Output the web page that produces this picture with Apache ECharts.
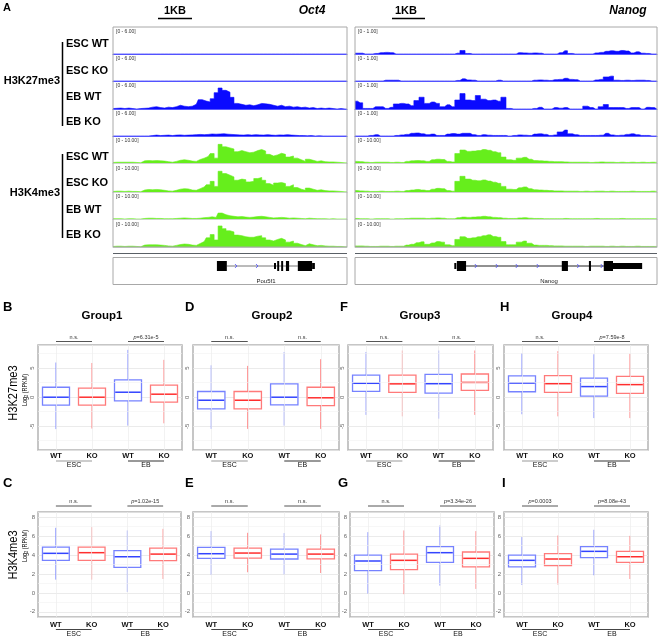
<!DOCTYPE html>
<html><head><meta charset="utf-8">
<style>html,body{margin:0;padding:0;background:#fff}#c{width:659px;height:638px}</style>
<script src="https://cdn.jsdelivr.net/npm/echarts/dist/echarts.min.js"></script>
</head><body><div id="c"></div>
<script>
// ================= DATA =================
// Panel A: IGV-like coverage tracks, 60 genomic bins per locus
const oct4_K27_ESCWT = [0,0,0,0,0,0,0,0,0,0, 0,0,0,0,0,0,0,0,0,0, 0,0,0,0,0,0,0,0,0,0, 0,0,0,0,0,0,0,0,0,0, 0,0,0,0,0,0,0,0,0,0, 0,0,0,0,0,0,0,0,0,0];
const oct4_K27_ESCKO = [0,0,0,0,0,0,0,0,0,0, 0,0,0,0,0,0,0,0,0,0, 0,0,0,0,0,0,0,0,0,0, 0,0,0,0,0,0,0,0,0,0, 0,0,0,0,0,0,0,0,0,0, 0,0,0,0,0,0,0,0,0,0];
const oct4_K27_EBWT = [0.1,0.15,0.2,0.1,0.2,0.1,0,0.1,0.15,0.2, 0.4,0.5,0.3,0.2,0.4,0.3,0.5,0.8,0.6,0.5, 0.6,1.0,2.0,1.7,1.5,2.2,3.5,4.5,4.0,3.6, 2.5,1.2,1.0,0.8,0.9,0.7,0.9,1.2,1.1,1.0, 0.8,0.6,0.8,0.5,0.6,0.4,0.5,0.3,0.4,0.2, 0.3,0.1,0.2,0.1,0.2,0.1,0,0.1,0,0];
const oct4_K27_EBKO = [0,0,0,0,0,0,0,0,0,0, 0.1,0.2,0.1,0.15,0.2,0.1,0.2,0.25,0.15,0.2, 0.25,0.3,0.35,0.3,0.35,0.45,0.4,0.45,0.5,0.4, 0.35,0.3,0.25,0.2,0.3,0.2,0.3,0.25,0.2,0.3, 0.2,0.15,0.25,0.2,0.3,0.2,0.15,0.1,0.1,0.05, 0.1,0,0.05,0,0,0,0,0,0,0];
const oct4_K4_ESCWT = [0.2,0.3,0.3,0.3,0.3,0.3,0.2,0.1,0.8,0.9, 0.8,0.9,0.8,0.7,0.5,0.3,0.6,1.0,1.2,1.0, 0.7,0.6,1.3,1.8,2.4,3.5,1.8,6.9,6.0,5.6, 5.2,4.2,4.6,4.2,3.8,4.0,4.6,5.0,4.4,3.2, 2.6,3.0,3.6,3.2,2.2,2.6,1.8,1.2,0.6,1.4, 1.0,0.6,0.8,0.5,0.4,0.4,0.3,0.2,0.1,0.1];
const oct4_K4_ESCKO = [0.2,0.3,0.3,0.2,0.3,0.2,0.2,0.1,0.7,0.9, 0.8,0.9,0.8,0.6,0.4,0.3,0.6,1.0,1.2,1.1, 0.7,0.6,1.2,1.8,2.6,3.8,2.0,7.4,6.6,6.0, 5.4,4.2,4.6,4.4,3.6,3.8,4.8,5.2,4.2,3.0, 2.4,3.2,3.4,3.0,2.0,2.6,1.6,1.0,0.6,1.4, 1.0,0.6,0.8,0.5,0.4,0.4,0.3,0.2,0.1,0.1];
const oct4_K4_EBWT = [0.1,0.1,0.1,0,0.1,0.1,0,0,0.2,0.3, 0.3,0.2,0.2,0.1,0.1,0.1,0.2,0.3,0.4,0.3, 0.2,0.2,0.3,0.5,0.6,0.8,0.6,2.2,1.6,1.2, 1.0,0.8,0.9,0.7,0.6,0.7,0.9,1.0,0.8,0.6, 0.4,0.5,0.6,0.5,0.3,0.4,0.3,0.2,0.1,0.3, 0.2,0.1,0.1,0.1,0,0.1,0,0,0,0];
const oct4_K4_EBKO = [0.2,0.3,0.3,0.2,0.3,0.3,0.2,0.1,0.7,0.8, 0.8,0.8,0.7,0.6,0.4,0.3,0.6,0.9,1.1,1.0, 0.7,0.6,1.3,2.0,3.4,4.6,2.6,7.8,6.8,6.0, 5.6,4.4,4.2,3.8,3.6,3.6,4.0,4.2,3.4,2.6, 2.2,2.8,3.2,2.6,1.8,2.2,1.4,0.9,0.5,1.2, 0.8,0.5,0.6,0.4,0.3,0.3,0.2,0.2,0.1,0.1];

const nanog_K27_ESCWT = [0.03,0.03,0,0,0.02,0.05,0.06,0.05,0,0, 0,0,0,0,0,0,0,0,0,0, 0.03,0.13,0.02,0,0,0,0,0,0,0, 0,0,0.05,0.04,0.03,0.04,0.03,0,0,0, 0.05,0.12,0.02,0,0,0,0,0.04,0.06,0.1, 0.12,0.1,0.13,0.11,0.04,0.08,0.03,0.02,0,0];
const nanog_K27_ESCKO = [0,0,0,0,0,0,0.03,0.03,0.03,0, 0,0,0,0,0,0,0,0,0,0, 0.02,0.08,0.04,0.03,0,0,0,0,0.03,0, 0,0,0,0,0,0.03,0.04,0.03,0.02,0.05, 0.06,0.1,0.06,0.05,0,0,0,0.04,0.06,0.15, 0.18,0.03,0.02,0.03,0.02,0.03,0.03,0.02,0,0];
const nanog_K27_EBWT = [0.28,0.22,0.02,0.02,0.08,0.08,0.02,0.06,0.18,0.2, 0.18,0.12,0.3,0.42,0.2,0.25,0.2,0.08,0.15,0.08, 0.32,0.55,0.32,0.3,0.48,0.35,0.3,0.32,0.28,0.42, 0.02,0,0,0,0,0.02,0.06,0,0,0.05, 0.03,0.05,0,0,0,0.1,0.05,0,0.08,0.16, 0.05,0.05,0.05,0.02,0.05,0.05,0,0.06,0.05,0];
const nanog_K27_EBKO = [0,0,0,0.02,0.05,0,0,0,0.02,0.04, 0.06,0.1,0.11,0.08,0.05,0.07,0.02,0.02,0.07,0.09, 0.07,0.1,0.1,0.05,0.02,0.05,0.03,0.02,0.02,0.02, 0,0.02,0.04,0.03,0.02,0.07,0.08,0.06,0.02,0.04, 0.15,0.22,0.08,0.05,0.02,0.02,0.02,0.02,0.03,0.1, 0.04,0.02,0.03,0.06,0.08,0.05,0.02,0.02,0,0];
const nanog_K4_ESCWT = [0.6,0.5,0.3,0.2,0.3,0.3,0.3,0.2,0.3,0.2, 0.6,0.8,0.9,0.8,0.6,1.2,1.4,1.3,0.6,0.4, 3.5,4.8,4.3,4.4,4.6,5.0,4.7,4.2,3.8,2.2, 1.2,1.0,1.8,2.1,1.4,0.9,0.8,0.7,0.6,0.5, 0.5,0.4,0.3,0.3,0.3,0.3,0.2,0.3,0.4,0.3, 0.3,0.2,0.3,0.2,0.3,0.2,0.3,0.2,0.3,0.2];
const nanog_K4_ESCKO = [0.5,0.4,0.3,0.2,0.2,0.3,0.2,0.2,0.3,0.2, 0.5,0.7,0.9,0.7,0.5,1.0,1.3,1.2,0.5,0.3, 3.8,5.6,4.6,4.2,4.0,4.3,3.9,3.5,3.1,2.0, 1.0,0.9,1.5,1.8,1.2,0.8,0.7,0.6,0.5,0.4, 0.4,0.3,0.3,0.3,0.2,0.3,0.2,0.3,0.3,0.2, 0.3,0.2,0.2,0.2,0.3,0.2,0.2,0.2,0.3,0.2];
const nanog_K4_EBWT = [0.2,0.1,0.1,0,0.1,0.1,0.1,0,0.1,0.1, 0.2,0.3,0.3,0.3,0.2,0.3,0.4,0.3,0.1,0.1, 0.5,0.7,0.6,0.7,0.8,1.0,0.8,0.6,0.5,0.3, 0.2,0.2,0.4,0.5,0.3,0.2,0.2,0.1,0.1,0.1, 0.1,0.2,0.1,0.1,0.1,0.1,0.1,0.2,0.1,0.1, 0.1,0.1,0.2,0.1,0.1,0.1,0.1,0.1,0.1,0.1];
const nanog_K4_EBKO = [0.4,0.4,0.3,0.2,0.2,0.3,0.3,0.2,0.3,0.3, 0.7,1.0,1.6,1.9,1.0,1.5,2.0,1.8,0.8,0.5, 2.8,3.8,3.2,3.4,3.8,4.2,4.5,3.9,3.6,2.0, 0.8,0.8,1.8,2.2,1.4,0.7,0.6,0.6,0.5,0.4, 0.4,0.3,0.3,0.3,0.3,0.2,0.3,0.3,0.3,0.2, 0.3,0.2,0.3,0.2,0.2,0.3,0.2,0.2,0.2,0.2];

// data ranges shown in track headers
const oct4K27Range = 6, nanogK27Range = 1, k4Range = 10;

// gene models, in bin coordinates: [start, end, kind] (1 = coding exon, 0 = UTR)
const oct4Exons = [[26.2,28.7,1],[40.6,41.1,0],[41.4,41.9,1],[42.4,42.9,1],[43.6,44.4,1],[46.6,50.2,1],[50.2,50.9,0]];
const oct4Intron = [28.7, 46.6];
const oct4Strand = [31.0, 36.3];
const nanogExons = [[19.4,19.8,0],[19.9,21.7,1],[40.4,41.6,1],[45.7,46.1,1],[48.6,50.4,1],[50.4,56.1,0]];
const nanogIntron = [21.7, 48.6];
const nanogStrand = [23.6, 27.7, 31.6, 35.7, 43.6, 48.2];

// Panels B-I: boxplot stats [min, Q1, median, Q3, max] for ESC WT, ESC KO, EB WT, EB KO
const xCats = ['WT','KO','WT','KO'];
const xGroups = ['ESC','EB'];
const group1_K27 = [[-5.5,-1.38,0,1.72,5.98],[-5.4,-1.38,0,1.55,5.9],[-4.9,-0.63,0.86,3.0,8.16],[-4.5,-0.86,0.52,2.07,6.44]];
const group2_K27 = [[-5.46,-2.0,-0.52,0.98,5.5],[-5.46,-2.0,-0.52,0.98,5.4],[-4.9,-1.32,0,2.3,7.8],[-5.46,-1.44,-0.1,1.72,6.55]];
const group3_K27 = [[-3.05,1.0,2.4,3.8,7.8],[-3.3,0.83,2.3,3.8,8.05],[-3.7,0.72,2.33,3.95,8.05],[-3.05,1.17,2.55,4.0,8.05]];
const group4_K27 = [[-2.94,0.94,2.44,3.67,7.6],[-3.3,0.83,2.33,3.72,7.94],[-3.6,0.17,1.83,3.28,7.4],[-3.6,0.67,2.17,3.6,7.5]];
const group1_K4 = [[1.4,3.44,4.18,4.84,6.88],[1.4,3.44,4.25,4.84,6.95],[0.1,2.7,3.82,4.46,6.6],[1.47,3.4,4.1,4.74,6.77]];
const group2_K4 = [[1.93,3.65,4.14,4.8,6.53],[2.18,3.68,4.21,4.74,6.35],[1.96,3.58,4.1,4.63,6.32],[2.1,3.6,4.1,4.63,6.18]];
const group3_K4 = [[-0.07,2.35,3.37,4.0,6.42],[-0.14,2.46,3.44,4.1,6.6],[0.77,3.23,4.25,4.88,7.12],[0.42,2.74,3.65,4.32,6.53]];
const group4_K4 = [[0.84,2.74,3.44,4.0,5.9],[0.88,2.88,3.58,4.14,6.07],[1.86,3.72,4.39,4.88,6.67],[1.47,3.23,3.82,4.39,6.03]];
const sig_B = ['n.s.','p=6.31e-5'];
const sig_D = ['n.s.','n.s.'];
const sig_F = ['n.s.','n.s.'];
const sig_H = ['n.s.','p=7.59e-8'];
const sig_C = ['n.s.','p=1.02e-15'];
const sig_E = ['n.s.','n.s.'];
const sig_G = ['n.s.','p=3.34e-26'];
const sig_I = ['p=0.0003','p=8.08e-43'];
const k27Limits = [-9.1, 9.0], k4Limits = [-2.55, 8.55];
const k27Minor = [-7.5,-2.5,2.5,7.5], k4Minor = [-1,1,3,5,7];

// ================= BUILD =================
const FONT = "'Liberation Sans', Arial, Helvetica, sans-serif";
const K27C = '#0a0aff', K27AX = '#5a5aff', K4C = '#66ee1c', K4AX = '#cdd5cd';
const WT_C = '#7682ff', WT_M = '#3344ff', KO_C = '#ff7a7a', KO_M = '#ff2e2e';
const grid = [], xAxis = [], yAxis = [], series = [], gfx = [];

function addAxes(g, xa, ya) {
  grid.push(g); const i = grid.length - 1;
  xa.gridIndex = i; ya.gridIndex = i; xAxis.push(xa); yAxis.push(ya); return i;
}
function T(text, x, y, font, o) {
  o = o || {};
  gfx.push(Object.assign({type:'text', x:x, y:y, silent:true, z:10,
    style:{text:text, font:font, fill:o.fill || '#000', textAlign:o.align || 'left', textVerticalAlign:'middle', rich:o.rich}}, o.el || {}));
}
function L(x1,y1,x2,y2,stroke,w){ gfx.push({type:'line', silent:true, z:10, shape:{x1,y1,x2,y2}, style:{stroke:stroke, lineWidth:w}}); }
function R(x,y,w,h,stroke){ gfx.push({type:'rect', silent:true, z:10, shape:{x,y,width:w,height:h}, style:{fill:null, stroke:stroke, lineWidth:1}}); }

// ---- Panel A tracks ----
const TRACK_ROWS = [[27,27],[54,27],[81,28],[109,27],[136,27],[164,28],[192,27],[220,27]];
const PANELS = [{left:113, width:234}, {left:355, width:302}];
const trackSets = [
  {p:0, data:[oct4_K27_ESCWT, oct4_K27_ESCKO, oct4_K27_EBWT, oct4_K27_EBKO], max:oct4K27Range, first:0, c:K27C, ax:K27AX},
  {p:0, data:[oct4_K4_ESCWT, oct4_K4_ESCKO, oct4_K4_EBWT, oct4_K4_EBKO], max:k4Range, first:4, c:K4C, ax:K4AX},
  {p:1, data:[nanog_K27_ESCWT, nanog_K27_ESCKO, nanog_K27_EBWT, nanog_K27_EBKO], max:nanogK27Range, first:0, c:K27C, ax:K27AX},
  {p:1, data:[nanog_K4_ESCWT, nanog_K4_ESCKO, nanog_K4_EBWT, nanog_K4_EBKO], max:k4Range, first:4, c:K4C, ax:K4AX}
];
trackSets.forEach(ts => {
  const P = PANELS[ts.p];
  ts.data.forEach((d, k) => {
    const row = TRACK_ROWS[ts.first + k];
    const i = addAxes({left:P.left, top:row[0], width:P.width, height:row[1]},
      {type:'category', data:d.map((_, j) => j), boundaryGap:false, axisLine:{show:true, lineStyle:{color:ts.ax, width:1.2}}, axisTick:{show:false}, axisLabel:{show:false}, splitLine:{show:false}},
      {type:'value', min:0, max:ts.max, show:false});
    series.push({type:'line', xAxisIndex:i, yAxisIndex:i, data:d, step:'middle', symbol:'none', silent:true,
      lineStyle:{width:0.6, color:ts.c}, areaStyle:{color:ts.c, opacity:1}, z:2});
    T('[0 - ' + ts.max.toFixed(2) + ']', P.left + 3, row[0] + 4.5, '5px ' + FONT, {fill:'#333'});
  });
});

// ---- gene models ----
function addGene(P, exons, intron, strand, lineColor) {
  const i = addAxes({left:P.left, top:259, width:P.width, height:14},
    {type:'value', min:0, max:59, show:false}, {type:'value', min:-1, max:1, show:false});
  series.push({type:'line', xAxisIndex:i, yAxisIndex:i, data:intron.map(v => [v, 0]), symbol:'none', silent:true, lineStyle:{color:lineColor, width:1}, z:3});
  series.push({type:'custom', xAxisIndex:i, yAxisIndex:i, data:exons, silent:true, z:4,
    renderItem:(p, api) => {
      const a = api.coord([api.value(0), 0]), b = api.coord([api.value(1), 0]);
      const h = api.value(2) === 1 ? 10 : 6;
      return {type:'rect', shape:{x:a[0], y:a[1] - h / 2, width:Math.max(1.2, b[0] - a[0]), height:h}, style:{fill:'#000'}};
    }});
  series.push({type:'custom', xAxisIndex:i, yAxisIndex:i, data:strand.map(v => [v, 0]), silent:true, z:4,
    renderItem:(p, api) => {
      const a = api.coord([api.value(0), 0]);
      return {type:'polyline', shape:{points:[[a[0] - 1, a[1] - 2], [a[0] + 1, a[1]], [a[0] - 1, a[1] + 2]]}, style:{stroke:'#4a4aff', lineWidth:0.8, fill:null}};
    }});
}
addGene(PANELS[0], oct4Exons, oct4Intron, oct4Strand, '#777');
addGene(PANELS[1], nanogExons, nanogIntron, nanogStrand, '#222');

// frames / decoration of panel A
PANELS.forEach(P => {
  R(P.left, 27, P.width, 220, '#a8a8a8');
  L(P.left, 253.5, P.left + P.width, 253.5, '#5a6066', 1.2);
  L(P.left, 257.5, P.left + P.width, 257.5, '#5a6066', 1.2);
  R(P.left, 257.5, P.width, 27, '#a8a8a8');
});
T('Pou5f1', 266, 281, '6px ' + FONT, {align:'center', fill:'#222'});
T('Nanog', 549, 281, '6px ' + FONT, {align:'center', fill:'#222'});
T('A', 3, 8, 'bold 11px ' + FONT);
T('1KB', 175, 11, 'bold 11px ' + FONT, {align:'center'}); L(158, 18.5, 192, 18.5, '#000', 1.5);
T('1KB', 406, 11, 'bold 11px ' + FONT, {align:'center'}); L(392, 18.5, 425, 18.5, '#000', 1.5);
T('Oct4', 312, 11, 'italic bold 12px ' + FONT, {align:'center'});
T('Nanog', 628, 11, 'italic bold 12px ' + FONT, {align:'center'});
const sampleNames = ['ESC WT','ESC KO','EB WT','EB KO'];
[44, 71, 97, 122].forEach((y, k) => T(sampleNames[k], 66, y, 'bold 11px ' + FONT));
[157, 183, 210, 235].forEach((y, k) => T(sampleNames[k], 66, y, 'bold 11px ' + FONT));
T('H3K27me3', 60, 81, 'bold 11px ' + FONT, {align:'right'});
T('H3K4me3', 60, 193, 'bold 11px ' + FONT, {align:'right'});
L(62.5, 42, 62.5, 126, '#000', 1.5);
L(62.5, 154, 62.5, 238, '#000', 1.5);

// ---- Panels B-I boxplots ----
const ROWS = [
  {top:345, height:105, lim:k27Limits, split:4, minor:k27Minor, rotate:90, sigGap:3.5, grpGap:11, labMargin:1.5, grpColors:['#999','#333']},
  {top:512, height:105, lim:k4Limits, split:5, minor:k4Minor, rotate:0, sigGap:6, grpGap:12.5, labMargin:4, grpColors:['#444','#444']}
];
const BOXES = [
  {r:0, left:38, width:144, boxes:group1_K27, sig:sig_B},
  {r:0, left:193, width:146, boxes:group2_K27, sig:sig_D},
  {r:0, left:348, width:145, boxes:group3_K27, sig:sig_F},
  {r:0, left:504, width:144, boxes:group4_K27, sig:sig_H},
  {r:1, left:38, width:143, boxes:group1_K4, sig:sig_C},
  {r:1, left:193, width:146, boxes:group2_K4, sig:sig_E},
  {r:1, left:350, width:144, boxes:group3_K4, sig:sig_G},
  {r:1, left:504, width:144, boxes:group4_K4, sig:sig_I}
];
function fmtP(s) { return s.charAt(0) === 'p' ? '{i|p}{n|' + s.slice(1) + '}' : '{n|' + s + '}'; }

BOXES.forEach(B => {
  const row = ROWS[B.r];
  const i = addAxes({left:B.left, top:row.top, width:B.width, height:row.height, show:true, borderColor:'#b4b4b4', borderWidth:1.5, backgroundColor:'#fff'},
    {type:'category', data:xCats, boundaryGap:true, axisLine:{show:false}, axisTick:{show:false},
      axisLabel:{margin:row.labMargin, fontSize:7.5, fontWeight:'bold', color:'#111', fontFamily:FONT, interval:0}, splitLine:{show:false}},
    {type:'value', min:row.lim[0], max:row.lim[1], splitNumber:row.split, axisLine:{show:false}, axisTick:{show:false},
      axisLabel:{fontSize:6, color:'#666', margin:3, rotate:row.rotate, showMinLabel:false, showMaxLabel:false, fontFamily:FONT},
      splitLine:{lineStyle:{color:'#e6e6e6', width:0.8}}});
  series.push({type:'line', xAxisIndex:i, yAxisIndex:i, data:[], silent:true, z:1,
    markLine:{silent:true, symbol:'none', animation:false, label:{show:false}, lineStyle:{color:'#f1f1f1', width:0.6, type:'solid'},
      data:row.minor.map(v => ({yAxis:v})).concat(xCats.map((_, k) => ({xAxis:k, lineStyle:{color:'#ececec', width:0.7, type:'solid'}})))}});
  series.push({type:'custom', xAxisIndex:i, yAxisIndex:i, silent:true, z:3, clip:false,
    data:B.boxes.map((b, k) => [k].concat(b)),
    renderItem:(p, api) => {
      const k = api.value(0);
      const m = api.coord([k, api.value(3)]);
      const x = m[0];
      const lo = api.coord([k, api.value(1)])[1], q1 = api.coord([k, api.value(2)])[1];
      const q3 = api.coord([k, api.value(4)])[1], hi = api.coord([k, api.value(5)])[1];
      const w = api.size([1, 0])[0] * 0.75;
      const wt = k % 2 === 0, col = wt ? WT_C : KO_C, med = wt ? WT_M : KO_M;
      return {type:'group', children:[
        {type:'line', shape:{x1:x, y1:hi, x2:x, y2:q3}, style:{stroke:col, lineWidth:1}},
        {type:'line', shape:{x1:x, y1:q1, x2:x, y2:lo}, style:{stroke:col, lineWidth:1}},
        {type:'rect', shape:{x:x - w / 2, y:q3, width:w, height:q1 - q3}, style:{fill:'#fff', stroke:col, lineWidth:1.3}},
        {type:'line', shape:{x1:x - w / 2 + 0.7, y1:m[1], x2:x + w / 2 - 0.7, y2:m[1]}, style:{stroke:med, lineWidth:1.5}}
      ]};
    }});
  series.push({type:'custom', xAxisIndex:i, yAxisIndex:i, silent:true, z:3, clip:false,
    data:[[0, 1], [2, 3]],
    renderItem:(p, api) => {
      const a = api.coord([api.value(0), 0])[0], b = api.coord([api.value(1), 0])[0];
      const cs = p.coordSys;
      const ys = cs.y - row.sigGap, yb = cs.y + cs.height + row.grpGap;
      const d = p.dataIndex;
      return {type:'group', children:[
        {type:'line', shape:{x1:a, y1:ys, x2:b, y2:ys}, style:{stroke:'#555', lineWidth:1}},
        {type:'text', style:{text:fmtP(B.sig[d]), x:(a + b) / 2, y:ys - 1.2, textAlign:'center', textVerticalAlign:'bottom', fill:'#333',
          font:'5.5px ' + FONT, rich:{i:{fontStyle:'italic', fontSize:5.5, fontFamily:FONT, fill:'#333'}, n:{fontSize:5.5, fontFamily:FONT, fill:'#333'}}}},
        {type:'line', shape:{x1:a, y1:yb, x2:b, y2:yb}, style:{stroke:row.grpColors[d], lineWidth:1}},
        {type:'text', style:{text:xGroups[d], x:(a + b) / 2, y:yb + 0.8, textAlign:'center', textVerticalAlign:'top', fill:'#111', font:'7px ' + FONT}}
      ]};
    }});
});

// panel letters and titles
[['B',3,307],['D',185,307],['F',340,307],['H',500,307],['C',3,483],['E',185,483],['G',338,483],['I',502,483]]
  .forEach(t => T(t[0], t[1], t[2], 'bold 13px ' + FONT));
[['Group1',102],['Group2',272],['Group3',420],['Group4',572]].forEach(t => T(t[0], t[1], 316, 'bold 11.5px ' + FONT, {align:'center'}));
const logRich = {a:{fontSize:7, fontFamily:FONT, fill:'#000'}, s:{fontSize:5, fontFamily:FONT, fill:'#000', padding:[3,0,0,0]}};
T('H3K27me3', 13, 393, '13px ' + FONT, {align:'center', el:{rotation:Math.PI / 2, scaleX:0.85}});
T('{a|Log}{s|2}{a| (RPKM)}', 25, 390, '7px ' + FONT, {align:'center', rich:logRich, el:{rotation:Math.PI / 2, scaleX:0.78}});
T('H3K4me3', 13, 555, '13px ' + FONT, {align:'center', el:{rotation:Math.PI / 2, scaleX:0.85}});
T('{a|Log}{s|2}{a| (RPKM)}', 25, 546, '7px ' + FONT, {align:'center', rich:logRich, el:{rotation:Math.PI / 2, scaleX:0.78}});

const chart = echarts.init(document.getElementById('c'));
chart.setOption({animation:false, backgroundColor:'#fff', grid:grid, xAxis:xAxis, yAxis:yAxis, series:series, graphic:{elements:gfx}});
</script>
</body></html>
